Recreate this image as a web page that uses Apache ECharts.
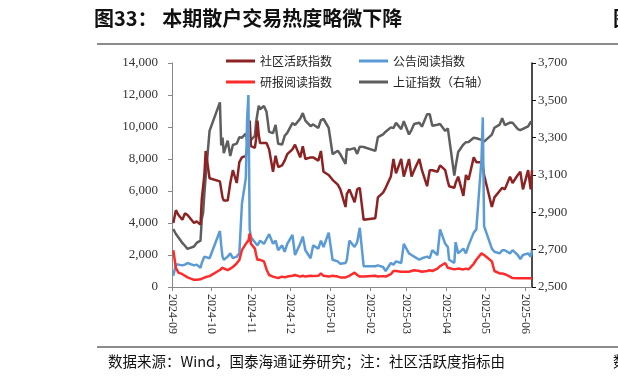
<!DOCTYPE html>
<html>
<head>
<meta charset="utf-8">
<script src="https://cdn.jsdelivr.net/npm/echarts@6/dist/echarts.min.js"></script>
<style>html,body{margin:0;padding:0;background:#fff;}#c{width:618px;height:384px;}</style>
</head>
<body>
<div id="c"></div>
<script>
const seriesNames = ['社区活跃指数', '公告阅读指数', '研报阅读指数', '上证指数（右轴）'];
const dates = [
'2024-09-02','2024-09-04','2024-09-06','2024-09-09','2024-09-11','2024-09-13','2024-09-18','2024-09-20','2024-09-23','2024-09-24','2024-09-25','2024-09-26','2024-09-27','2024-09-30',
'2024-10-08','2024-10-09','2024-10-10','2024-10-11','2024-10-14','2024-10-16','2024-10-18','2024-10-21','2024-10-23','2024-10-25','2024-10-28','2024-10-29','2024-10-30','2024-10-31',
'2024-11-01','2024-11-04','2024-11-05','2024-11-06','2024-11-07','2024-11-08','2024-11-11','2024-11-13','2024-11-15','2024-11-18','2024-11-20','2024-11-22','2024-11-25','2024-11-27','2024-11-29',
'2024-12-03','2024-12-05','2024-12-09','2024-12-11','2024-12-13','2024-12-17','2024-12-19','2024-12-23','2024-12-25','2024-12-27','2024-12-31',
'2025-01-03','2025-01-07','2025-01-09','2025-01-13','2025-01-14','2025-01-16','2025-01-20','2025-01-22','2025-01-24','2025-01-27',
'2025-02-05','2025-02-07','2025-02-11','2025-02-13','2025-02-17','2025-02-19','2025-02-21','2025-02-25','2025-02-27',
'2025-03-03','2025-03-05','2025-03-07','2025-03-11','2025-03-13','2025-03-17','2025-03-19','2025-03-21','2025-03-25','2025-03-27','2025-03-31',
'2025-04-02','2025-04-03','2025-04-07','2025-04-08','2025-04-10','2025-04-14','2025-04-16','2025-04-18','2025-04-22','2025-04-24','2025-04-28','2025-04-29','2025-04-30',
'2025-05-06','2025-05-08','2025-05-12','2025-05-14','2025-05-16','2025-05-20','2025-05-22','2025-05-26','2025-05-28','2025-05-30',
'2025-06-03','2025-06-05','2025-06-06'
];
const community = [
4000,4800,4500,4200,4600,4500,4000,4100,3900,5500,5600,7000,8500,6800,
6600,6700,5600,5400,5400,6500,7300,6500,7800,8100,8200,8600,9500,10400,
8800,8700,9300,10400,9500,9000,9000,9000,8600,7200,8200,7500,7600,7900,8300,
8600,8900,8100,8800,8000,8100,8100,7900,8500,7200,7000,
6700,6400,6100,5000,5800,6100,5300,6100,6200,4200,
4300,5600,5900,6200,6900,8000,7100,8000,6900,
8000,6900,7300,8000,7300,6300,7300,7300,7200,7600,7300,
6600,6300,6200,6500,6900,5700,7000,6700,8100,7800,7800,7600,7000,
5000,5600,6000,6200,6100,6900,6500,7000,7200,6100,
7300,6100,7300
];
const announcement = [
700,1400,1400,1350,1400,1500,1350,1400,1200,1500,1700,1900,2000,1800,
3500,2600,1900,1700,1900,2100,1800,1900,2100,5200,6800,10500,12000,3600,
3100,2800,2700,2600,2700,2900,2700,3000,3300,2700,2900,2300,2600,2200,2700,
3250,2000,2700,3150,2300,1800,2600,2400,2900,2500,3400,
1700,1600,1450,1500,1700,2900,2500,2800,3700,1300,
1300,1350,1250,1000,1500,1400,1600,1500,2700,
2100,2000,1900,1700,1800,1900,1800,2300,2000,3600,2700,
2500,1700,1500,2800,2100,2400,2100,2600,3400,3600,8000,10600,3800,
2400,2200,2100,2300,2300,2100,2300,2000,1750,2000,
2100,1900,2300
];
const research = [
2300,1200,900,800,700,600,450,450,480,500,550,600,620,680,
1060,1100,1200,1150,1050,1150,1250,1480,1690,2300,2700,2600,2900,3350,
2700,2400,2000,1700,1650,1700,1600,1100,750,650,600,560,650,600,650,
700,750,650,700,650,700,680,700,850,700,650,
700,650,600,600,650,700,900,750,650,650,
700,650,680,650,800,1000,1000,950,950,
950,1000,1050,1000,950,1000,1050,1000,1150,1300,1500,
1200,1150,1100,1100,1150,1100,1150,1100,1450,1700,2100,2200,2000,
1600,1000,850,850,800,650,560,540,540,540,
540,540,540
];
const shIndex = [
2811,2784,2765,2736,2721,2704,2717,2736,2748,2863,2896,3000,3088,3336,
3489,3258,3301,3217,3284,3202,3261,3268,3302,3300,3322,3286,3266,3280,
3272,3310,3387,3383,3471,3452,3470,3439,3331,3324,3368,3267,3263,3310,3326,
3378,3368,3402,3432,3391,3362,3371,3352,3394,3400,3352,
3212,3230,3211,3160,3240,3236,3244,3213,3252,3250,
3229,3303,3318,3332,3355,3351,3379,3346,3388,
3317,3342,3373,3380,3359,3426,3426,3364,3369,3373,3336,
3350,3342,3097,3145,3223,3263,3276,3277,3300,3297,3288,3287,3279,
3316,3353,3370,3404,3367,3381,3380,3346,3340,3347,
3361,3384,3385
];

// calendar-day category axis
const allDays = [];
for (let t = Date.UTC(2024, 8, 1); t <= Date.UTC(2025, 5, 6); t += 86400000) {
  allDays.push(new Date(t).toISOString().slice(0, 10));
}
function align(vals) {
  const m = {};
  dates.forEach((d, i) => { m[d] = vals[i]; });
  return allDays.map(d => (d in m ? m[d] : null));
}
const isMonthStart = (i, v) => v.slice(8) === '01';
const fmt = v => String(v).replace(/\B(?=(\d{3})+(?!\d))/g, ',');

const colors = ['#8C2222', '#5B9BD5', '#FF2B2B', '#5E5E5E'];
const chart = echarts.init(document.getElementById('c'), null, {renderer: 'canvas'});
const legendText = {fontFamily: '"Noto Sans CJK SC"', fontSize: 12, color: '#222'};
chart.setOption({
  animation: false,
  backgroundColor: '#fff',
  grid: {left: 172, right: 86, top: 63, bottom: 97, containLabel: false},
  legend: [
    {data: [seriesNames[0], seriesNames[1]], left: 221, top: 50, itemWidth: 29, itemHeight: 3, itemGap: 27, icon: 'rect', textStyle: legendText},
    {data: [seriesNames[2], seriesNames[3]], left: 221, top: 71, itemWidth: 29, itemHeight: 3, itemGap: 27, icon: 'rect', textStyle: legendText}
  ],
  xAxis: {
    type: 'category', data: allDays, boundaryGap: false,
    axisLine: {lineStyle: {color: '#888', width: 1}},
    axisTick: {interval: isMonthStart, length: 4, lineStyle: {color: '#888'}},
    axisLabel: {interval: isMonthStart, rotate: -90, margin: 7, formatter: v => v.slice(0, 7),
      fontFamily: '"Liberation Serif"', fontSize: 12, color: '#333'},
    splitLine: {show: false}
  },
  yAxis: [
    {type: 'value', min: 0, max: 14000, interval: 2000,
      axisLine: {show: true, lineStyle: {color: '#888'}},
      axisTick: {show: true, length: 4, lineStyle: {color: '#888'}},
      axisLabel: {formatter: fmt, margin: 14, fontFamily: '"Liberation Serif"', fontSize: 13, color: '#333'},
      splitLine: {show: false}},
    {type: 'value', min: 2500, max: 3700, interval: 200, position: 'right',
      axisLine: {show: true, lineStyle: {color: '#111', width: 1.5}},
      axisTick: {show: true, length: 4, lineStyle: {color: '#111'}},
      axisLabel: {formatter: fmt, margin: 6, fontFamily: '"Liberation Serif"', fontSize: 13, color: '#333'},
      splitLine: {show: false}}
  ],
  series: [
    {name: seriesNames[3], type: 'line', yAxisIndex: 1, data: align(shIndex), connectNulls: true, showSymbol: false,
      lineStyle: {width: 2.5, color: colors[3]}, itemStyle: {color: colors[3]}, z: 1},
    {name: seriesNames[0], type: 'line', data: align(community), connectNulls: true, showSymbol: false,
      lineStyle: {width: 2.5, color: colors[0]}, itemStyle: {color: colors[0]}, z: 2},
    {name: seriesNames[1], type: 'line', data: align(announcement), connectNulls: true, showSymbol: false,
      lineStyle: {width: 2.5, color: colors[1]}, itemStyle: {color: colors[1]}, z: 3},
    {name: seriesNames[2], type: 'line', data: align(research), connectNulls: true, showSymbol: false,
      lineStyle: {width: 2.5, color: colors[2]}, itemStyle: {color: colors[2]}, z: 4}
  ],
  graphic: [
    {type: 'text', left: 94, top: 8, style: {text: '图33： 本期散户交易热度略微下降', font: 'bold 20px "Noto Sans CJK SC"', fill: '#111'}},
    {type: 'text', left: 613, top: 8, style: {text: '图', font: 'bold 20px "Noto Sans CJK SC"', fill: '#111'}},
    {type: 'line', shape: {x1: 97, y1: 44, x2: 618, y2: 44}, style: {stroke: '#666', lineWidth: 1.5}},
    {type: 'line', shape: {x1: 97, y1: 347, x2: 618, y2: 347}, style: {stroke: '#666', lineWidth: 1.5}},
    {type: 'text', left: 108, top: 354, style: {text: '数据来源：Wind，国泰海通证券研究；注：社区活跃度指标由', font: '14.5px "Noto Sans CJK SC"', fill: '#111'}},
    {type: 'text', left: 613, top: 354, style: {text: '数', font: '14.5px "Noto Sans CJK SC"', fill: '#111'}}
  ]
});
</script>
</body>
</html>
